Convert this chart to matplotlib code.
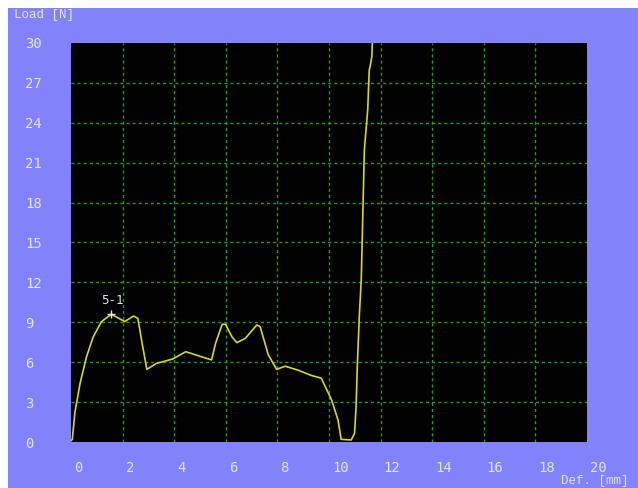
import matplotlib
matplotlib.use("Agg")
import matplotlib.pyplot as plt
from matplotlib.patches import Rectangle
from matplotlib.transforms import ScaledTranslation

# Data
deflection = [0.0, 0.05, 0.15, 0.35, 0.6, 0.86, 1.18, 1.56, 1.76, 2.08, 2.42, 2.59,
              2.78, 2.94, 3.3, 3.94, 4.45, 4.96, 5.45, 5.6, 5.86, 5.99, 6.24, 6.43,
              6.76, 7.2, 7.33, 7.65, 7.97, 8.3, 8.8, 9.32, 9.7, 10.1, 10.35, 10.47,
              10.86, 10.99, 11.05, 11.1, 11.18, 11.25, 11.37, 11.5, 11.56, 11.6,
              11.66, 11.7]
load = [0.1, 0.2, 2.2, 4.4, 6.4, 7.9, 9.05, 9.6, 9.4, 9.05, 9.47, 9.3,
        7.17, 5.46, 5.9, 6.24, 6.79, 6.47, 6.17, 7.4, 8.85, 8.85, 7.9, 7.47,
        7.8, 8.8, 8.67, 6.54, 5.46, 5.7, 5.4, 5.0, 4.8, 3.16, 1.65, 0.2,
        0.15, 0.65, 2.65, 5.9, 9.67, 12.2, 21.95, 24.96, 27.97, 28.3,
        29.0, 31.0]
marker_point = (1.56, 9.6)
marker_label = "5-1"
x_ticks = [0, 2, 4, 6, 8, 10, 12, 14, 16, 18, 20]
y_ticks = [0, 3, 6, 9, 12, 15, 18, 21, 24, 27, 30]

BG = "#8282FA"
TXT = "#E4E4F4"
GRID = "#22A022"
LINE = "#D8D820"
FONT = "DejaVu Sans Mono"

W, H = 638, 488
fig = plt.figure(figsize=(W / 100, H / 100), dpi=100, facecolor=BG)
# white strips at left and top edges
fig.patches.append(Rectangle((0, 0), 8 / W, 1, transform=fig.transFigure,
                             facecolor="white", edgecolor="none", zorder=-1))
fig.patches.append(Rectangle((0, 1 - 8 / H), 1, 8 / H, transform=fig.transFigure,
                             facecolor="white", edgecolor="none", zorder=-1))

left, right, top, bottom = 71, 587, 43, 442
ax = fig.add_axes([left / W, 1 - bottom / H, (right - left) / W, (bottom - top) / H])
ax.set_facecolor("black")
for s in ax.spines.values():
    s.set_visible(False)

XMAX, YMAX = 19.85, 30
ax.set_xlim(0, XMAX)
ax.set_ylim(0, YMAX)

# interior grid lines only
for xv in x_ticks:
    if 0 < xv < XMAX:
        ax.axvline(xv, color=GRID, ls=(0, (2.2, 2.2)), lw=1.0, zorder=1)
for yv in y_ticks:
    if 0 < yv < YMAX:
        ax.axhline(yv, color=GRID, ls=(0, (2.2, 2.2)), lw=1.0, zorder=1)

ax.plot(deflection, load, color=LINE, lw=1.2, zorder=3)
ax.plot([marker_point[0]], [marker_point[1]], marker="+", color=TXT, ms=6, mew=1, zorder=4)
ax.text(marker_point[0] + 0.05, marker_point[1] + 0.55, marker_label, color=TXT,
        fontsize=9, family=FONT, ha="center", va="bottom", zorder=4)

ax.set_xticks(x_ticks)
ax.set_xticklabels([str(v) for v in x_ticks])
ax.set_yticks(y_ticks)
ax.set_yticklabels([str(v) for v in y_ticks])
ax.tick_params(axis="both", length=0, colors=TXT, labelsize=10)
ax.tick_params(axis="x", pad=14.0)
ax.tick_params(axis="y", pad=33.0)
off = ScaledTranslation(0.03, 0, fig.dpi_scale_trans)
for lab in ax.get_xticklabels():
    lab.set_ha("left")
    lab.set_family(FONT)
    lab.set_transform(lab.get_transform() + off)
for lab in ax.get_yticklabels():
    lab.set_ha("left")
    lab.set_family(FONT)

fig.text(14 / W, 1 - 15 / H, "Load [N]", color=TXT, fontsize=9, family="Liberation Mono",
         ha="left", va="center")
fig.text(561 / W, 1 - 481 / H, "Def. [mm]", color=TXT, fontsize=9, family="Liberation Mono",
         ha="left", va="center")

fig.savefig("out.png", dpi=100, facecolor=BG)
